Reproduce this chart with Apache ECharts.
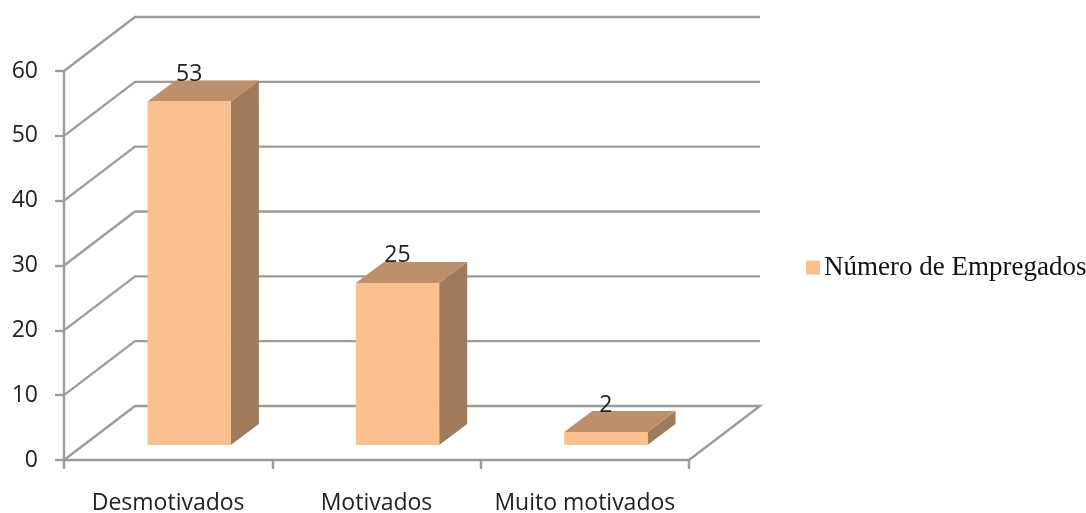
<!DOCTYPE html>
<html><head><meta charset="utf-8">
<style>html,body{margin:0;padding:0;background:#fff}#c{width:1086px;height:513px}</style>
<script src="https://cdn.jsdelivr.net/npm/echarts@6/dist/echarts.min.js"></script>
</head><body><div id="c"></div>
<script>
const categories = ['Desmotivados', 'Motivados', 'Muito motivados'];
const empregados = [53, 25, 2];
const yTicks = [0, 10, 20, 30, 40, 50, 60];
const seriesName = 'Número de Empregados';

const wallDX = 71, wallDY = -54, barDX = 28, barDY = -21, barShiftX = 21, barShiftY = -15, barRatio = 0.4;
const gridColor = '#9c9c9c', frontColor = '#fac090', topColor = '#bd8f6b', sideColor = '#9f7b5b', textColor = '#222';
const sansFont = '"Open Sans"';

const chart = echarts.init(document.getElementById('c'), null, {renderer: 'canvas'});

function renderWall(params, api) {
  const v = api.value(0);
  const cs = params.coordSys;
  const y = api.coord([0, v])[1];
  const x0 = cs.x, x1 = cs.x + cs.width;
  const pts = [[x0, y], [x0 + wallDX, y + wallDY], [x1 + wallDX, y + wallDY]];
  if (v === 0) pts.push([x1, y]);
  return {type: 'polyline', shape: {points: pts}, style: {stroke: gridColor, lineWidth: 2.4, fill: null}, silent: true};
}

function renderBar(params, api) {
  const v = api.value(1);
  const base = api.coord([api.value(0), 0]);
  const top = api.coord([api.value(0), v]);
  const band = api.size([1, 0])[0];
  const w = band * barRatio;
  const l = base[0] + barShiftX - w / 2, r = l + w;
  const b = base[1] + barShiftY, t = top[1] + barShiftY;
  const poly = (points, fill) => ({type: 'polygon', shape: {points}, style: {fill}});
  return {type: 'group', children: [
    poly([[r, b], [r + barDX, b + barDY], [r + barDX, t + barDY], [r, t]], sideColor),
    poly([[l, t], [r, t], [r + barDX, t + barDY], [l + barDX, t + barDY]], topColor),
    poly([[l, b], [r, b], [r, t], [l, t]], frontColor),
    {type: 'text', x: (l + r) / 2, y: t - 27, style: {text: String(v), font: '23px ' + sansFont, fill: textColor, align: 'center', verticalAlign: 'middle'}}
  ]};
}

chart.setOption({
  animation: false,
  backgroundColor: '#fff',
  grid: {left: 64, right: 397, top: 71, bottom: 53, containLabel: false, outerBoundsMode: 'none'},
  legend: {
    data: [seriesName], left: 801, top: 249, itemWidth: 14, itemHeight: 14, itemGap: 5,
    icon: 'rect',
    textStyle: {fontFamily: '"Liberation Serif"', fontSize: 27, color: '#111', padding: [0, 0, 0, -1]}
  },
  xAxis: {
    type: 'category', data: categories, boundaryGap: true,
    axisLine: {show: true, onZero: false, lineStyle: {color: gridColor, width: 2.4}},
    axisTick: {show: true, length: 9, alignWithLabel: false, lineStyle: {color: gridColor, width: 2.4}},
    axisLabel: {interval: 0, margin: 32, fontFamily: sansFont, fontSize: 23, color: textColor},
    splitLine: {show: false}
  },
  yAxis: {
    type: 'value', min: 0, max: 60, interval: 10,
    axisLine: {show: true, lineStyle: {color: gridColor, width: 2.4}},
    axisTick: {show: true, length: 9, lineStyle: {color: gridColor, width: 2.4}},
    axisLabel: {margin: 26, fontFamily: sansFont, fontSize: 23, color: textColor, padding: [4, 0, 0, 0]},
    splitLine: {show: false}
  },
  series: [
    {type: 'custom', name: 'walls', coordinateSystem: 'cartesian2d', clip: false, silent: true, z: 1,
     encode: {y: 0}, data: yTicks.map(v => [v]), renderItem: renderWall},
    {type: 'custom', name: seriesName, coordinateSystem: 'cartesian2d', clip: false, z: 3,
     itemStyle: {color: frontColor}, encode: {x: 0, y: 1},
     data: empregados.map((v, i) => [i, v]), renderItem: renderBar}
  ]
});
</script></body></html>
